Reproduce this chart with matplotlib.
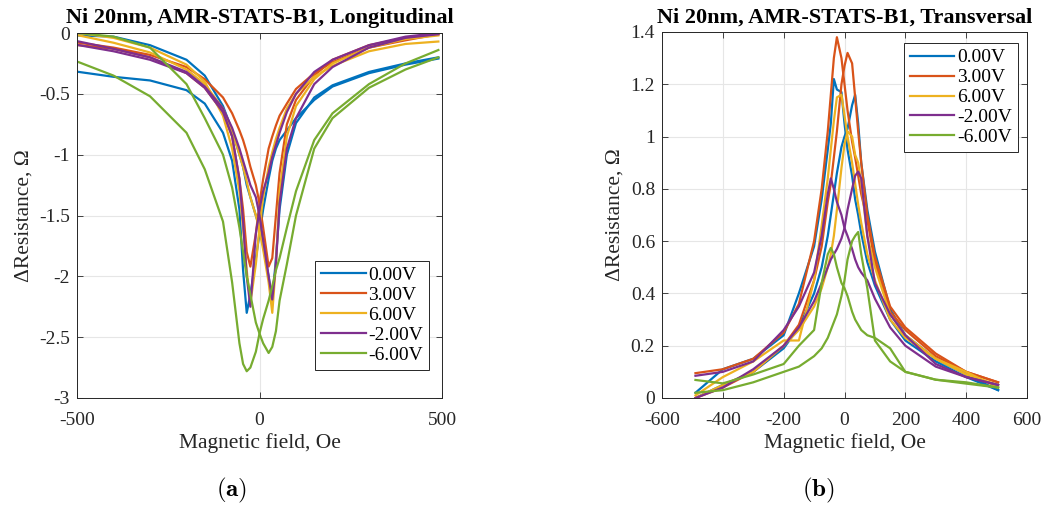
import matplotlib
matplotlib.use("Agg")
import matplotlib.pyplot as plt

# ---------------- data ----------------
labels = ["0.00V", "3.00V", "6.00V", "-2.00V", "-6.00V"]
colors = ["#0072BD", "#D95319", "#EDB120", "#7E2F8E", "#77AC30"]

# (a) Longitudinal: field grid (Oe) and two sweep branches per voltage (Ohm)
field_long = [-495, -400, -300, -200, -150, -100, -75, -55, -45, -35, -25, -10, 0,
              10, 25, 35, 45, 55, 75, 100, 150, 200, 300, 400, 490]
long_0V_a = [-0.32, -0.36, -0.39, -0.47, -0.58, -0.82, -1.05, -1.45, -1.95, -2.30, -2.15, -1.85, -1.65,
             -1.45, -1.20, -1.05, -0.95, -0.88, -0.80, -0.70, -0.55, -0.44, -0.33, -0.26, -0.21]
long_0V_b = [-0.02, -0.03, -0.10, -0.22, -0.35, -0.60, -0.80, -1.00, -1.10, -1.25, -1.35, -1.50, -1.60,
             -1.75, -2.00, -2.21, -1.85, -1.45, -1.00, -0.74, -0.53, -0.43, -0.32, -0.25, -0.20]
long_3V_a = [-0.10, -0.13, -0.20, -0.33, -0.45, -0.65, -0.85, -1.20, -1.45, -1.80, -1.92, -1.65, -1.40,
             -1.20, -0.95, -0.85, -0.76, -0.68, -0.58, -0.46, -0.33, -0.24, -0.12, -0.06, -0.01]
long_3V_b = [-0.08, -0.12, -0.18, -0.28, -0.38, -0.53, -0.66, -0.80, -0.88, -0.98, -1.10, -1.25, -1.40,
             -1.60, -1.92, -1.85, -1.50, -1.15, -0.75, -0.55, -0.35, -0.22, -0.10, -0.04, -0.01]
long_6V_a = [0.00, -0.04, -0.12, -0.26, -0.40, -0.68, -0.95, -1.30, -1.60, -1.95, -2.22, -1.90, -1.60,
             -1.35, -1.10, -0.98, -0.87, -0.78, -0.62, -0.50, -0.36, -0.27, -0.15, -0.09, -0.07]
long_6V_b = [-0.02, -0.08, -0.16, -0.30, -0.42, -0.62, -0.80, -1.00, -1.10, -1.22, -1.35, -1.50, -1.62,
             -1.78, -2.05, -2.30, -1.90, -1.30, -0.85, -0.60, -0.38, -0.25, -0.12, -0.05, -0.02]
long_m2V_a = [-0.10, -0.15, -0.22, -0.33, -0.45, -0.65, -0.85, -1.20, -1.55, -2.00, -2.25, -1.65, -1.45,
              -1.30, -1.15, -1.02, -0.92, -0.82, -0.65, -0.50, -0.32, -0.22, -0.10, -0.03, 0.00]
long_m2V_b = [-0.07, -0.13, -0.20, -0.32, -0.44, -0.62, -0.78, -0.95, -1.05, -1.15, -1.25, -1.35, -1.50,
              -1.70, -2.00, -2.19, -1.90, -1.40, -0.95, -0.70, -0.42, -0.28, -0.12, -0.04, -0.01]
long_m6V_a = [-0.24, -0.35, -0.52, -0.82, -1.12, -1.55, -2.05, -2.55, -2.72, -2.78, -2.75, -2.62, -2.47,
              -2.35, -2.20, -2.08, -1.95, -1.85, -1.60, -1.30, -0.88, -0.66, -0.42, -0.25, -0.14]
long_m6V_b = [0.00, -0.03, -0.12, -0.42, -0.70, -1.00, -1.27, -1.60, -1.80, -2.00, -2.15, -2.38, -2.47,
              -2.55, -2.63, -2.58, -2.45, -2.20, -1.90, -1.50, -0.95, -0.70, -0.45, -0.30, -0.20]

# (b) Transversal
field_trans = [-490, -400, -300, -200, -150, -100, -75, -55, -45, -35, -25, -10, 0,
               10, 25, 35, 45, 55, 75, 100, 150, 200, 300, 400, 505]
trans_0V_a = [0.02, 0.11, 0.15, 0.24, 0.40, 0.58, 0.76, 0.95, 1.05, 1.22, 1.18, 1.17, 1.05,
              0.95, 0.85, 0.76, 0.70, 0.63, 0.52, 0.43, 0.30, 0.22, 0.14, 0.08, 0.03]
trans_0V_b = [0.00, 0.05, 0.10, 0.19, 0.27, 0.40, 0.50, 0.62, 0.70, 0.78, 0.86, 0.96, 1.00,
              1.03, 1.12, 1.16, 1.05, 0.90, 0.72, 0.56, 0.34, 0.24, 0.15, 0.09, 0.03]
trans_3V_a = [0.095, 0.11, 0.15, 0.25, 0.36, 0.60, 0.80, 1.02, 1.16, 1.30, 1.38, 1.30, 1.20,
              1.10, 0.98, 0.92, 0.85, 0.78, 0.68, 0.52, 0.33, 0.26, 0.16, 0.10, 0.06]
trans_3V_b = [0.00, 0.04, 0.10, 0.20, 0.28, 0.45, 0.58, 0.75, 0.82, 0.92, 1.02, 1.20, 1.27,
              1.32, 1.28, 1.15, 1.02, 0.90, 0.70, 0.54, 0.35, 0.27, 0.17, 0.10, 0.06]
trans_6V_a = [0.01, 0.08, 0.14, 0.22, 0.22, 0.45, 0.66, 0.84, 0.95, 1.06, 1.15, 1.16, 1.08,
              1.00, 0.90, 0.82, 0.74, 0.67, 0.55, 0.45, 0.30, 0.23, 0.15, 0.09, 0.05]
trans_6V_b = [0.00, 0.05, 0.10, 0.20, 0.26, 0.35, 0.42, 0.50, 0.55, 0.62, 0.72, 0.88, 0.97,
              1.02, 1.00, 0.93, 0.90, 0.82, 0.62, 0.50, 0.32, 0.24, 0.15, 0.10, 0.04]
trans_m2V_a = [0.085, 0.10, 0.14, 0.26, 0.35, 0.48, 0.62, 0.78, 0.84, 0.80, 0.75, 0.70, 0.65,
               0.62, 0.57, 0.53, 0.50, 0.48, 0.45, 0.38, 0.27, 0.20, 0.12, 0.08, 0.05]
trans_m2V_b = [0.00, 0.04, 0.11, 0.20, 0.27, 0.37, 0.44, 0.50, 0.53, 0.55, 0.57, 0.61, 0.65,
               0.72, 0.80, 0.85, 0.866, 0.84, 0.62, 0.44, 0.32, 0.24, 0.13, 0.08, 0.05]
trans_m6V_a = [0.069, 0.056, 0.09, 0.13, 0.20, 0.26, 0.44, 0.55, 0.574, 0.55, 0.50, 0.44, 0.42,
               0.39, 0.33, 0.30, 0.28, 0.26, 0.24, 0.23, 0.19, 0.10, 0.07, 0.06, 0.04]
trans_m6V_b = [0.02, 0.03, 0.06, 0.10, 0.12, 0.16, 0.19, 0.23, 0.26, 0.29, 0.32, 0.39, 0.45,
               0.53, 0.60, 0.62, 0.635, 0.55, 0.42, 0.22, 0.14, 0.10, 0.07, 0.055, 0.04]

long_series = [(long_0V_a, long_0V_b), (long_3V_a, long_3V_b), (long_6V_a, long_6V_b),
               (long_m2V_a, long_m2V_b), (long_m6V_a, long_m6V_b)]
trans_series = [(trans_0V_a, trans_0V_b), (trans_3V_a, trans_3V_b), (trans_6V_a, trans_6V_b),
                (trans_m2V_a, trans_m2V_b), (trans_m6V_a, trans_m6V_b)]

long_xticks = [-500, 0, 500]
long_yticks = [0, -0.5, -1, -1.5, -2, -2.5, -3]
trans_xticks = [-600, -400, -200, 0, 200, 400, 600]
trans_yticks = [0, 0.2, 0.4, 0.6, 0.8, 1.0, 1.2, 1.4]

# ---------------- style ----------------
plt.rcParams["font.family"] = ["Liberation Serif", "DejaVu Serif"]
plt.rcParams["mathtext.fontset"] = "cm"

W, H = 1046, 505
fig = plt.figure(figsize=(W / 100, H / 100), dpi=100)


def fmt(v):
    return "%g" % v


def setup(ax, xticks, yticks, xlim, ylim, title):
    ax.set_xlim(*xlim)
    ax.set_ylim(*ylim)
    ax.set_xticks(xticks)
    ax.set_yticks(yticks)
    ax.set_xticklabels([fmt(v) for v in xticks])
    ax.set_yticklabels([fmt(v) for v in yticks])
    ax.grid(True, color="#e6e6e6", linewidth=0.8)
    ax.set_axisbelow(True)
    ax.tick_params(direction="in", length=4, width=0.6, top=True, right=True,
                   labelsize=14, colors="#262626")
    ax.tick_params(axis="x", pad=10)
    ax.tick_params(axis="y", pad=5)
    for sp in ax.spines.values():
        sp.set_color("#262626")
        sp.set_linewidth(0.7)
    ax.set_xlabel("Magnetic field, Oe", fontsize=15.5, color="#262626", labelpad=3)
    ax.set_ylabel("\u0394Resistance, \u03a9", fontsize=15.5, color="#262626", labelpad=4)
    ax.set_title(title, fontsize=16, fontweight="bold", pad=7)


legend_kw = dict(fontsize=14, frameon=True, fancybox=False, edgecolor="#262626",
                 framealpha=1, handlelength=2.3, handletextpad=0.15,
                 labelspacing=0.12, borderpad=0.3, borderaxespad=0)

# left axes
ax1 = fig.add_axes([77 / W, (H - 398) / H, 365 / W, 365 / H])
for (ya, yb), c, lab in zip(long_series, colors, labels):
    ax1.plot(field_long, ya, color=c, lw=1.6, label=lab)
    ax1.plot(field_long, yb, color=c, lw=1.6)
setup(ax1, long_xticks, long_yticks, (-500, 500), (-3, 0),
      "Ni 20nm, AMR-STATS-B1, Longitudinal")
leg1 = ax1.legend(loc="lower right", bbox_to_anchor=(0.965, 0.077), **legend_kw)
leg1.get_frame().set_linewidth(0.7)

# right axes
ax2 = fig.add_axes([662 / W, (H - 398) / H, 365 / W, 366 / H])
for (ya, yb), c, lab in zip(trans_series, colors, labels):
    ax2.plot(field_trans, ya, color=c, lw=1.6, label=lab)
    ax2.plot(field_trans, yb, color=c, lw=1.6)
setup(ax2, trans_xticks, trans_yticks, (-600, 600), (0, 1.4),
      "Ni 20nm, AMR-STATS-B1, Transversal")
leg2 = ax2.legend(loc="upper right", bbox_to_anchor=(0.975, 0.97), **legend_kw)
leg2.get_frame().set_linewidth(0.7)

fig.text(232 / W, 1 - 490 / H, r"$\mathbf{(a)}$", ha="center", va="center", fontsize=18)
fig.text(818 / W, 1 - 490 / H, r"$\mathbf{(b)}$", ha="center", va="center", fontsize=18)

fig.savefig("out.png", dpi=100, facecolor="white")
